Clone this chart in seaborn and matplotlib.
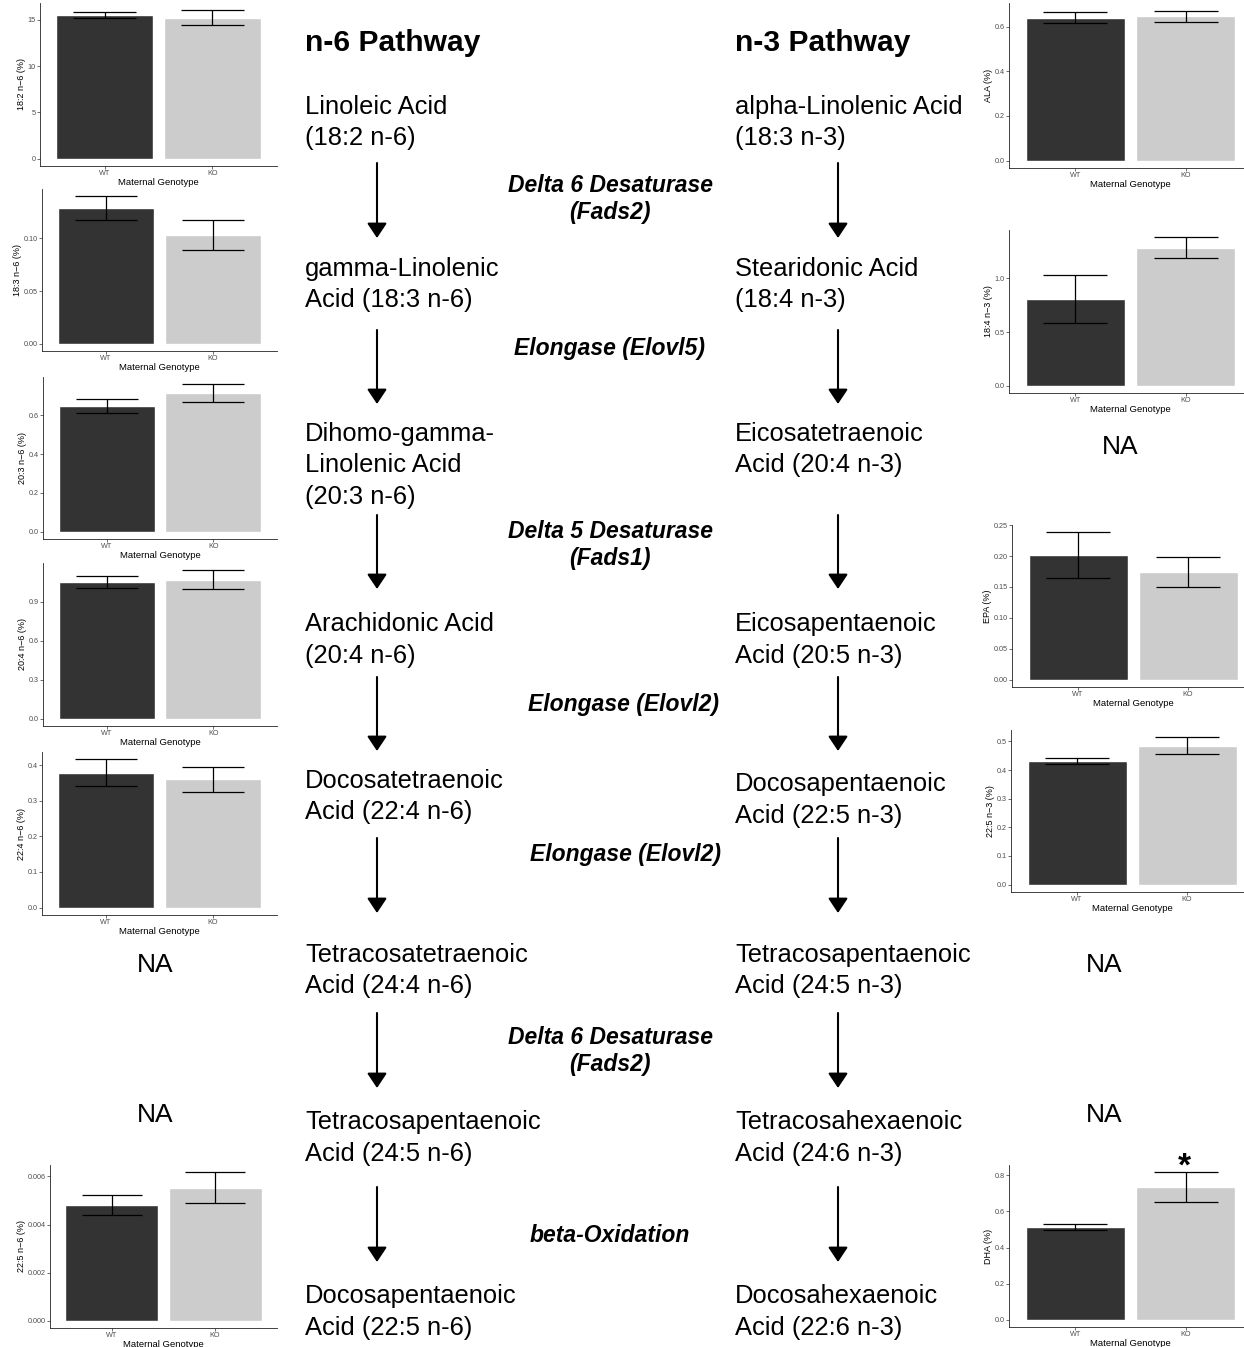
import matplotlib
matplotlib.use("Agg")
import matplotlib.pyplot as plt
from matplotlib.patches import FancyArrowPatch
import seaborn as sb
import pandas as pd

W, H = 1244, 1347

# data (mean and error for WT / KO)
genotypes = ["WT", "KO"]
panel_ylabels = ["18:2 n\u22126 (%)", "18:3 n\u22126 (%)", "20:3 n\u22126 (%)", "20:4 n\u22126 (%)",
                 "22:4 n\u22126 (%)", "22:5 n\u22126 (%)",
                 "ALA (%)", "18:4 n\u22123 (%)", "EPA (%)", "22:5 n\u22123 (%)", "DHA (%)"]
wt_mean = [15.5, 0.1286, 0.650, 1.055, 0.379, 0.00481, 0.641, 0.806, 0.2013, 0.4304, 0.514]
ko_mean = [15.25, 0.1032, 0.714, 1.071, 0.360, 0.00554, 0.649, 1.288, 0.1742, 0.485, 0.734]
wt_err = [0.33, 0.0113, 0.037, 0.045, 0.037, 0.00043, 0.0245, 0.222, 0.037, 0.0105, 0.015]
ko_err = [0.78, 0.0143, 0.046, 0.072, 0.035, 0.00063, 0.025, 0.095, 0.024, 0.029, 0.083]
y_tick_labels = [["0", "5", "10", "15"], ["0.00", "0.05", "0.10"], ["0.0", "0.2", "0.4", "0.6"],
                 ["0.0", "0.3", "0.6", "0.9"], ["0.0", "0.1", "0.2", "0.3", "0.4"],
                 ["0.000", "0.002", "0.004", "0.006"], ["0.0", "0.2", "0.4", "0.6"],
                 ["0.0", "0.5", "1.0"], ["0.00", "0.05", "0.10", "0.15", "0.20", "0.25"],
                 ["0.0", "0.1", "0.2", "0.3", "0.4", "0.5"], ["0.0", "0.2", "0.4", "0.6", "0.8"]]
significance = [["", ""]] * 10 + [["", "*"]]

# pathway text
n6_title = "n-6 Pathway"
n3_title = "n-3 Pathway"
n6_names = [["Linoleic Acid", "(18:2 n-6)"], ["gamma-Linolenic", "Acid (18:3 n-6)"],
            ["Dihomo-gamma-", "Linolenic Acid", "(20:3 n-6)"], ["Arachidonic Acid", "(20:4 n-6)"],
            ["Docosatetraenoic", "Acid (22:4 n-6)"], ["Tetracosatetraenoic", "Acid (24:4 n-6)"],
            ["Tetracosapentaenoic", "Acid (24:5 n-6)"], ["Docosapentaenoic", "Acid (22:5 n-6)"]]
n3_names = [["alpha-Linolenic Acid", "(18:3 n-3)"], ["Stearidonic Acid", "(18:4 n-3)"],
            ["Eicosatetraenoic", "Acid (20:4 n-3)"], ["Eicosapentaenoic", "Acid (20:5 n-3)"],
            ["Docosapentaenoic", "Acid (22:5 n-3)"], ["Tetracosapentaenoic", "Acid (24:5 n-3)"],
            ["Tetracosahexaenoic", "Acid (24:6 n-3)"], ["Docosahexaenoic", "Acid (22:6 n-3)"]]
enzymes = [["Delta 6 Desaturase", "(Fads2)"], ["Elongase (Elovl5)"], ["Delta 5 Desaturase", "(Fads1)"],
           ["Elongase (Elovl2)"], ["Elongase (Elovl2)"], ["Delta 6 Desaturase", "(Fads2)"],
           ["beta-Oxidation"]]
na_label = "NA"

# layout (pixels from top-left)
panel_boxes = [(40, 3, 277, 166), (42, 189, 277, 351), (43, 377, 277, 539), (43, 563, 277, 726),
               (42, 752, 277, 915), (50, 1165, 277, 1328),
               (1009, 3, 1252, 168), (1009, 230, 1252, 393), (1012, 525, 1254, 687),
               (1011, 730, 1253, 892), (1009, 1165, 1252, 1327)]
n6_rows_y = [107, 269, 434, 624, 781, 955, 1122, 1296]
n3_rows_y = [107, 269, 434, 624, 784, 955, 1122, 1296]
enzyme_pos = [(610, 186), (610, 348), (610, 532), (623, 705), (625, 855), (610, 1037), (610, 1235)]
arrow_spans = [(163, 238), (330, 404), (515, 589), (677, 751), (838, 913), (1013, 1088), (1187, 1262)]
na_pos = [(155, 965), (1120, 447), (1104, 965), (155, 1115), (1104, 1115)]
LINE = 31.5

sb.set_style("ticks")
plt.rcParams['font.family'] = ['Liberation Sans', 'DejaVu Sans']
plt.rcParams['text.color'] = 'black'
plt.rcParams['axes.labelcolor'] = 'black'

fig = plt.figure(figsize=(W / 100, H / 100), dpi=100)
fig.patch.set_facecolor("white")


def fx(px):
    return px / W


def fy(py):
    return 1 - py / H


def bar_panel(i):
    x0, y0, x1, y1 = panel_boxes[i]
    ax = fig.add_axes([fx(x0), fy(y1), fx(x1 - x0), (y1 - y0) / H])
    df = pd.DataFrame({"genotype": genotypes,
                       "value": [wt_mean[i], ko_mean[i]],
                       "err": [wt_err[i], ko_err[i]]})
    sb.barplot(data=df, x="genotype", y="value", hue="genotype", palette=["#333333", "#cccccc"],
               width=0.9, errorbar=None, legend=False, ax=ax, saturation=1)
    lo = df["value"] - df["err"]
    hi = df["value"] + df["err"]
    xs = list(range(len(df)))
    ax.vlines(xs, lo, hi, color="black", lw=0.9)
    ax.hlines(list(lo) + list(hi), [x - 0.29 for x in xs] * 2, [x + 0.29 for x in xs] * 2,
              color="black", lw=0.9)
    for x, (s, h) in enumerate(zip(significance[i], hi)):
        if s:
            ax.annotate(s, xy=(x, h), xytext=(-1, -2), textcoords="offset points", ha="center",
                        va="baseline", fontsize=24, fontweight="bold", color="black",
                        annotation_clip=False)
    top = hi.max()
    ax.set_xlim(-0.6, 1.6)
    ax.set_ylim(-0.05 * top, 1.05 * top)
    ticks = y_tick_labels[i]
    ax.set_yticks([float(t) for t in ticks])
    ax.set_yticklabels(ticks)
    sb.despine(ax=ax)
    for side in ["left", "bottom"]:
        ax.spines[side].set_linewidth(0.6)
        ax.spines[side].set_color("#222222")
    ax.tick_params(labelsize=5.2, labelcolor="#4d4d4d", length=2, width=0.5, pad=1, color="#333333")
    ax.set_xlabel("Maternal Genotype", fontsize=6.8, labelpad=0.5)
    ax.set_ylabel(panel_ylabels[i], fontsize=6.5, labelpad=1.5)
    ax.set_facecolor("white")


for i in range(len(panel_ylabels)):
    bar_panel(i)

# pathway diagram
fig.text(fx(305), fy(43), n6_title, fontsize=21.6, fontweight="bold", ha="left", va="center")
fig.text(fx(735), fy(43), n3_title, fontsize=21.6, fontweight="bold", ha="left", va="center")

for names, rows, xleft in [(n6_names, n6_rows_y, 305), (n3_names, n3_rows_y, 735)]:
    for block, y in zip(names, rows):
        for k, line in enumerate(block):
            fig.text(fx(xleft), fy(y + k * LINE), line, fontsize=18.4, ha="left", va="center")

for block, (x, y) in zip(enzymes, enzyme_pos):
    for k, line in enumerate(block):
        fig.text(fx(x), fy(y + k * 27), line, fontsize=16.5, fontweight="bold", fontstyle="italic",
                 ha="center", va="center")

for x, y in na_pos:
    fig.text(fx(x), fy(y), na_label, fontsize=19, ha="center", va="center")

for xa in [377, 838]:
    for ya, yb in arrow_spans:
        arr = FancyArrowPatch((fx(xa), fy(ya)), (fx(xa), fy(yb)), transform=fig.transFigure,
                              arrowstyle="-|>,head_length=0.9,head_width=0.6", mutation_scale=10,
                              lw=1.5, color="black", shrinkA=0, shrinkB=0)
        fig.patches.append(arr)

fig.savefig("out.png", dpi=100, facecolor="white")
